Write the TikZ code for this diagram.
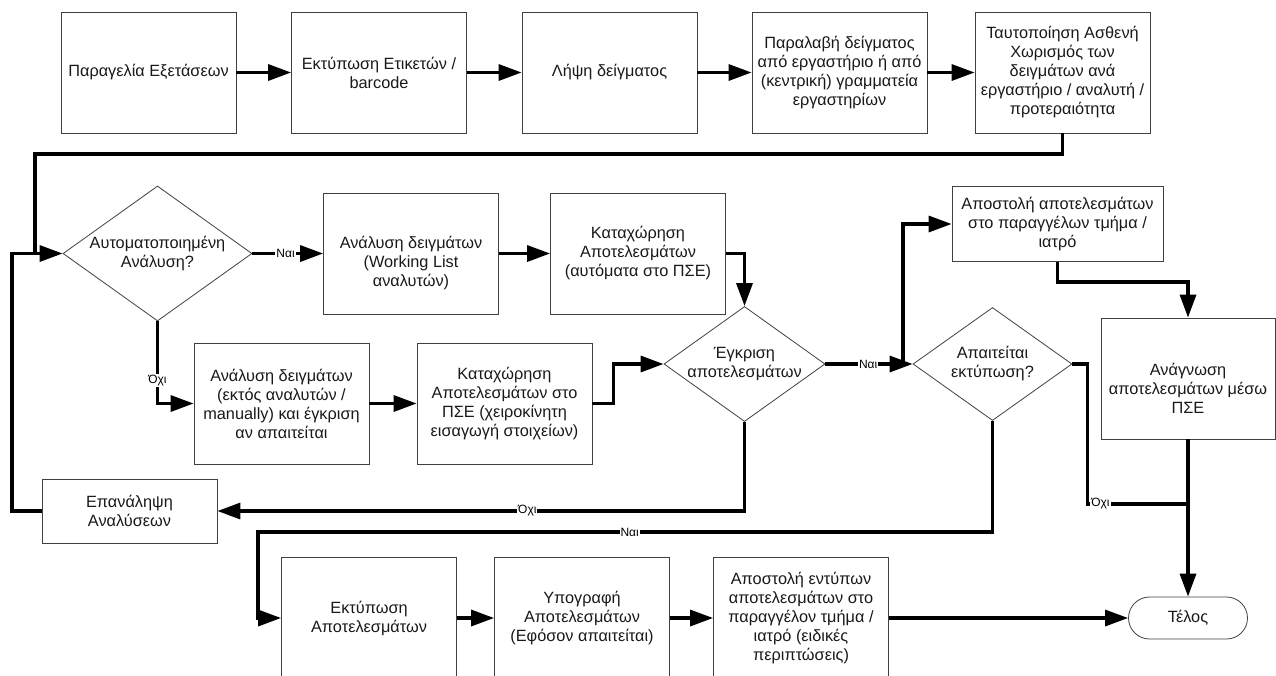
\documentclass[tikz,border=0pt]{standalone}
\usepackage{fontspec}
\setmainfont{Liberation Sans}
\usetikzlibrary{arrows.meta,shapes.geometric}
\begin{document}
\begin{tikzpicture}[x=1pt,y=-1pt,
  font=\fontsize{16.3}{19}\selectfont,
  box/.style={draw=black!75, line width=0.8pt, rectangle, align=center, minimum width=175pt, minimum height=121pt, inner sep=2pt, text=black!90},
  dia/.style={draw=black!75, line width=0.8pt, diamond, align=center, inner sep=0pt, shape aspect=1.4, text=black!90},
  conn/.style={line width=3.3pt, draw=black},
  arr/.style={conn, -{Triangle[length=23pt,width=16pt]}},
  lbl/.style={fill=white, inner sep=1pt, font=\fontsize{12}{14}\selectfont},
  term/.style={draw=black!75, line width=0.8pt, rounded corners=21pt, minimum width=119pt, minimum height=42pt, text=black!90},
]
\useasboundingbox (0,0) rectangle (1276,675);

% top row
\node[box] (b1) at (148.5,72.5) {Παραγελία Εξετάσεων};
\node[box] (b2) at (379,72.5) {Εκτύπωση Ετικετών /\\barcode};
\node[box] (b3) at (609.5,72.5) {Λήψη δείγματος};
\node[box] (b4) at (839.5,72.5) {Παραλαβή δείγματος\\από εργαστήριο ή από\\(κεντρική) γραμματεία\\εργαστηρίων};
\node[box] (b5) at (1062.5,72.5) {Ταυτοποίηση Ασθενή\\Χωρισμός των\\δειγμάτων ανά\\εργαστήριο / αναλυτή /\\προτεραιότητα};

% middle
\node[dia, minimum width=189pt, minimum height=135pt] (d1) at (157.5,253.5) {Αυτοματοποιημένη\\Ανάλυση?};
\node[box] (w1) at (411,253.5) {\strut\\Ανάλυση δειγμάτων\\(Working List\\αναλυτών)};
\node[box] (ka) at (638,253.5) {Καταχώρηση\\Αποτελεσμάτων\\(αυτόματα στο ΠΣΕ)};
\node[box] (ae) at (281.5,403.5) {Ανάλυση δειγμάτων\\(εκτός αναλυτών /\\manually) και έγκριση\\αν απαιτείται};
\node[box] (kx) at (504.5,403.5) {Καταχώρηση\\Αποτελεσμάτων στο\\ΠΣΕ (χειροκίνητη\\εισαγωγή στοιχείων)};
\node[dia, minimum width=157pt, minimum height=114pt] (d2) at (744.5,364) {Έγκριση\\αποτελεσμάτων};
\node[box, minimum height=64pt] (rep) at (129.5,511) {Επανάληψη\\Αναλύσεων};
\node[box, minimum width=211pt, minimum height=75pt] (ap) at (1057.5,224) {Αποστολή αποτελεσμάτων\\στο παραγγέλων τμήμα /\\ιατρό};
\node[dia, minimum width=159pt, minimum height=113pt] (d3) at (992.5,364) {Απαιτείται\\εκτύπωση?};
\node[box, minimum width=174pt] (an) at (1188,378.5) {\strut\\Ανάγνωση\\αποτελεσμάτων μέσω\\ΠΣΕ};

% bottom row
\node[box] (ep) at (369,618) {Εκτύπωση\\Αποτελεσμάτων};
\node[box] (ug) at (582,618) {Υπογραφή\\Αποτελεσμάτων\\(Εφόσον απαιτείται)};
\node[box] (ae2) at (801,618) {Αποστολή εντύπων\\αποτελεσμάτων στο\\παραγγέλον τμήμα /\\ιατρό (ειδικές\\περιπτώσεις)};
\node[term] (tel) at (1188,618) {Τέλος};

% connectors
\draw[arr] (b1) -- (b2);
\draw[arr] (b2) -- (b3);
\draw[arr] (b3) -- (b4);
\draw[arr] (b4) -- (b5);

\coordinate (t1) at (35,154);
\coordinate (j1) at (35,253.5);
\draw[conn] (b5.south) |- (t1) -- (j1);
\coordinate (lp) at (12,253.5);
\draw[arr] (rep.west) -| (lp) -- (d1.west);

\draw[arr] (d1.east) -- node[lbl,pos=0.47]{Ναι} (w1.west);
\draw[arr] (w1) -- (ka);
\draw[arr] (ka.east) -| (d2.north);
\draw[arr] (d1.south) |- node[lbl,pos=0.36]{Όχι} (ae.west);
\draw[arr] (ae) -- (kx);
\draw[arr] (kx.east) -- ++(21,0) |- (d2.west);
\draw[arr] (d2.east) -- node[lbl,pos=0.49]{Ναι} (d3.west);
\coordinate (j2) at (903,364);
\draw[arr] (j2) |- (ap.west);
\draw[arr] (d2.south) |- node[lbl,pos=0.706]{Όχι} (rep.east);
\coordinate (c3) at (258,532);
\draw[arr] (d3.south) |- node[lbl,pos=0.747]{Ναι} (c3) |- (ep.west);
\draw[arr] (ep) -- (ug);
\draw[arr] (ug) -- (ae2);
\draw[arr] (ae2) -- (tel);
\draw[arr] (ap.south) -- ++(0,20) -| (an.north);
\draw[arr] (an.south) -- (tel.north);
\coordinate (j3) at (1188,504);
\draw[conn] (d3.east) -- ++(15,0) |- node[lbl,pos=0.565]{Όχι} (j3);
\end{tikzpicture}
\end{document}
